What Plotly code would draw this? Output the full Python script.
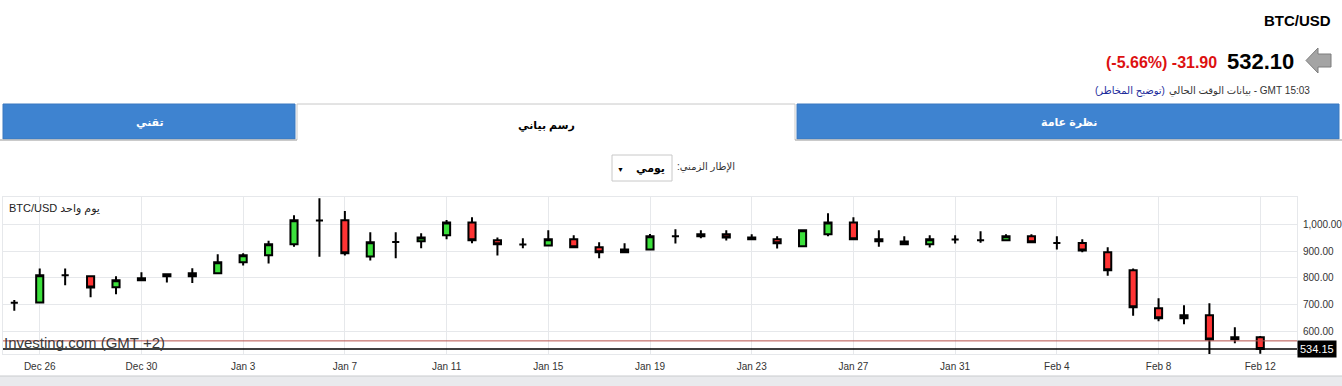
import plotly.graph_objects as go

# ---------------- data ----------------
dates = ["2013-12-25", "2013-12-26", "2013-12-27", "2013-12-28", "2013-12-29", "2013-12-30", "2013-12-31",
         "2014-01-01", "2014-01-02", "2014-01-03", "2014-01-04", "2014-01-05", "2014-01-06", "2014-01-07",
         "2014-01-08", "2014-01-09", "2014-01-10", "2014-01-11", "2014-01-12", "2014-01-13", "2014-01-14",
         "2014-01-15", "2014-01-16", "2014-01-17", "2014-01-18", "2014-01-19", "2014-01-20", "2014-01-21",
         "2014-01-22", "2014-01-23", "2014-01-24", "2014-01-25", "2014-01-26", "2014-01-27", "2014-01-28",
         "2014-01-29", "2014-01-30", "2014-01-31", "2014-02-01", "2014-02-02", "2014-02-03", "2014-02-04",
         "2014-02-05", "2014-02-06", "2014-02-07", "2014-02-08", "2014-02-09", "2014-02-10", "2014-02-11",
         "2014-02-12"]
open_ = [707, 708, 809, 806, 765, 791, 806,
         806, 817, 858, 884, 925, 1014, 1015,
         880, 934, 937, 959, 1007, 940, 924,
         921, 944, 914, 895, 906, 955, 955,
         963, 951, 944, 918, 963, 1007, 944,
         936, 925, 943, 940, 940, 955, 930,
         930, 895, 828, 686, 649, 660, 570,
         578]
high = [717, 835, 835, 809, 806, 821, 817,
        836, 888, 892, 938, 1034, 1097, 1050,
        970, 970, 966, 1016, 1026, 951, 948,
        978, 959, 933, 929, 964, 981, 978,
        978, 963, 955, 981, 1041, 1026, 978,
        955, 959, 959, 974, 963, 963, 955,
        944, 914, 835, 723, 697, 705, 615,
        582]
low = [677, 707, 772, 727, 738, 788, 782,
       780, 816, 846, 853, 916, 879, 883,
       865, 873, 910, 944, 929, 883, 910,
       921, 913, 873, 892, 905, 928, 948,
       939, 940, 909, 918, 955, 943, 916,
       924, 913, 928, 931, 940, 932, 906,
       895, 808, 658, 637, 626, 515, 555,
       516]
close = [707, 809, 809, 764, 791, 798, 813,
         817, 858, 884, 925, 1015, 1014, 892,
         933, 934, 951, 1007, 940, 925, 924,
         944, 914, 895, 906, 955, 955, 963,
         951, 944, 929, 978, 1007, 944, 937,
         925, 944, 943, 940, 955, 933, 930,
         902, 828, 690, 649, 660, 569, 578,
         534.15]

tick_dates = ["2013-12-26", "2013-12-30", "2014-01-03", "2014-01-07", "2014-01-11", "2014-01-15",
              "2014-01-19", "2014-01-23", "2014-01-27", "2014-01-31", "2014-02-04", "2014-02-08",
              "2014-02-12"]
tick_labels = ["Dec 26", "Dec 30", "Jan 3", "Jan 7", "Jan 11", "Jan 15", "Jan 19", "Jan 23",
               "Jan 27", "Jan 31", "Feb 4", "Feb 8", "Feb 12"]
y_ticks = [600, 700, 800, 900, 1000]

last_price = 534.15
prev_close = 564.0
quote_price = "532.10"
quote_change = "(-5.66%) -31.90"

# ---------------- layout helpers ----------------
W, H = 1342, 386
PL, PR, PT, PB = 3, 1297, 197, 354   # plot area in pixels


def px(X):
    return (X - PL) / (PR - PL)


def py(Y):
    return (PB - Y) / (PB - PT)


FONT = "Arial, 'Liberation Sans', 'DejaVu Sans', sans-serif"
GREEN = "#3ce03c"
RED = "#ff3434"
BLUE_TAB = "#3e83d0"
GRID = "#e6e8eb"

fig = go.Figure()
fig.add_trace(go.Candlestick(
    x=dates, open=open_, high=high, low=low, close=close,
    increasing=dict(fillcolor=GREEN, line=dict(color="black", width=2)),
    decreasing=dict(fillcolor=RED, line=dict(color="black", width=2)),
    whiskerwidth=0, hoverinfo="skip", showlegend=False,
))

shapes = []
annotations = []

# reference lines
shapes.append(dict(type="line", xref="paper", yref="y", x0=0, x1=1, y0=prev_close, y1=prev_close,
                   line=dict(color="#b5504c", width=1)))
shapes.append(dict(type="line", xref="paper", yref="y", x0=0, x1=1, y0=last_price, y1=last_price,
                   line=dict(color="black", width=1.5)))

# bottom grey band
shapes.append(dict(type="rect", xref="paper", yref="paper", x0=px(0), x1=px(W), y0=py(376), y1=py(H + 2),
                   fillcolor="#e9eaed", line=dict(width=0), layer="below"))
shapes.append(dict(type="line", xref="paper", yref="paper", x0=px(0), x1=px(W), y0=py(376), y1=py(376),
                   line=dict(color="#c9cbce", width=1)))

# tabs
shapes.append(dict(type="rect", xref="paper", yref="paper", x0=px(3), x1=px(295), y0=py(139), y1=py(104),
                   fillcolor=BLUE_TAB, line=dict(color="#3a78bf", width=1)))
shapes.append(dict(type="rect", xref="paper", yref="paper", x0=px(797), x1=px(1339), y0=py(139), y1=py(104),
                   fillcolor=BLUE_TAB, line=dict(color="#3a78bf", width=1)))
shapes.append(dict(type="path", xref="paper", yref="paper",
                   path=f"M {px(297)},{py(140)} L {px(297)},{py(104)} L {px(795)},{py(104)} L {px(795)},{py(140)}",
                   fillcolor="rgba(0,0,0,0)", line=dict(color="#c8c8c8", width=1)))
shapes.append(dict(type="line", xref="paper", yref="paper", x0=px(0), x1=px(297), y0=py(140), y1=py(140),
                   line=dict(color="#b9b9b9", width=1.5)))
shapes.append(dict(type="line", xref="paper", yref="paper", x0=px(795), x1=px(W), y0=py(140), y1=py(140),
                   line=dict(color="#b9b9b9", width=1.5)))

# dropdown box
shapes.append(dict(type="rect", xref="paper", yref="paper", x0=px(612), x1=px(672), y0=py(181), y1=py(155),
                   fillcolor="white", line=dict(color="#c8c8c8", width=1)))

# grey arrow icon
arrow = [(1306, 60.5), (1318, 48), (1318, 54), (1331, 54), (1331, 67), (1318, 67), (1318, 73)]
path = "M " + " L ".join(f"{px(a)},{py(b)}" for a, b in arrow) + " Z"
shapes.append(dict(type="path", xref="paper", yref="paper", path=path,
                   fillcolor="#a4a4a4", line=dict(color="#7c7c7c", width=1)))


def ann(X, Y, text, size, color="black", xanchor="center", bold=False, **kw):
    if bold:
        text = f"<b>{text}</b>"
    annotations.append(dict(x=px(X), y=py(Y), xref="paper", yref="paper", text=text, showarrow=False,
                            xanchor=xanchor, yanchor="middle", font=dict(size=size, color=color, family=FONT),
                            **kw))


ann(1333, 20, "BTC/USD", 15, xanchor="right", bold=True)
ann(1296, 61, quote_price, 22, xanchor="right", bold=True)
ann(1219, 62, quote_change, 16, color="#dd1111", xanchor="right", bold=True)
ann(1312, 91, "\u202b15:03 GMT - بيانات الوقت الحالي\u202c", 10, color="#333333", xanchor="right")
ann(1167, 91, "\u202b(توضيح المخاطر)\u202c", 10, color="#1b2b9b", xanchor="right")

ann(150, 122, "تقني", 11, color="white", bold=True)
ann(546, 125, "رسم بياني", 11, color="black", bold=True)
ann(1069, 122, "نظرة عامة", 11, color="white", bold=True)

ann(737, 167, "\u202bالإطار الزمني:\u202c", 10, color="#333333", xanchor="right")
ann(667, 168, "يومي", 11, color="black", xanchor="right", bold=True)
ann(620, 169, "▼", 7, color="black")

ann(7, 208, "BTC/USD يوم واحد", 11, color="#222222", xanchor="left")
ann(2, 342, "Investing.com (GMT +2)", 15, color="#3a3a3a", xanchor="left")

annotations.append(dict(x=1, y=last_price, xref="paper", yref="y", text=f"{last_price:.2f}", showarrow=False,
                        xanchor="left", yanchor="middle", bgcolor="black", borderpad=2,
                        font=dict(size=11, color="white", family=FONT)))

fig.update_layout(
    width=W, height=H,
    margin=dict(l=PL, r=W - PR, t=PT, b=H - PB),
    paper_bgcolor="white", plot_bgcolor="white",
    boxgap=0.6, boxgroupgap=0.3,
    shapes=shapes, annotations=annotations,
    font=dict(family=FONT, color="#333333"),
    xaxis=dict(
        type="date", range=["2013-12-24 13:20", "2014-02-13 10:40"],
        tickvals=tick_dates, ticktext=tick_labels,
        showgrid=True, gridcolor=GRID, gridwidth=1,
        showline=True, linecolor=GRID, mirror=True,
        rangeslider=dict(visible=False), ticks="", ticklabelstandoff=3,
        tickfont=dict(size=10, color="#333333"), fixedrange=True, automargin=False,
    ),
    yaxis=dict(
        range=[515, 1102], side="right", tickvals=y_ticks, tickformat=",.2f",
        showgrid=True, gridcolor=GRID, gridwidth=1,
        showline=True, linecolor=GRID, mirror=True, zeroline=False,
        ticks="", ticklabelstandoff=3,
        tickfont=dict(size=10, color="#333333"), fixedrange=True, automargin=False,
    ),
)

fig.write_html("out.html")
